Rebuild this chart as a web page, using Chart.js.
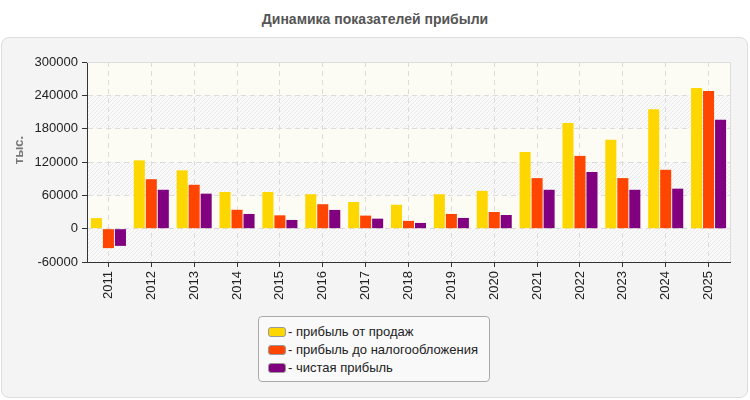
<!DOCTYPE html>
<html>
<head>
<meta charset="utf-8">
<script src="https://cdn.jsdelivr.net/npm/chart.js@4/dist/chart.umd.min.js"></script>
<style>
    body { margin: 0; background: #fff; font-family: "Liberation Sans", Arial, sans-serif; }
    #wrap { position: relative; width: 750px; height: 400px; }
    #card {
        position: absolute; left: 1px; top: 37px; width: 745px; height: 359px;
        border: 1px solid #ddd; border-radius: 8px; background: #f4f4f4;
    }
    #title {
        position: absolute; left: 0; top: 11px; width: 750px; text-align: center;
        font-weight: bold; font-size: 14px; color: #555;
    }
    #chart { position: absolute; left: 0; top: 0; }
    #legend {
        position: absolute; left: 258px; top: 316px; width: 230px; height: 58px;
        padding-top: 6px; border: 1px solid #aaa; border-radius: 4px; background: #f9f9f9;
    }
    .item { height: 18px; line-height: 18px; font-size: 13px; color: #222; white-space: nowrap; }
    .swatch {
        display: inline-block; width: 16px; height: 8px; margin: 0 2px 0 9px;
        border: 1px solid #999; border-radius: 3px; vertical-align: -1px;
    }
</style>
</head>
<body>
<div id="wrap">
    <div id="card"></div>
    <div id="title">Динамика показателей прибыли</div>
    <canvas id="chart" width="750" height="400"></canvas>
    <div id="legend"></div>
</div>
<script>
// =====================================
// Data
// =====================================

const years = ["2011", "2012", "2013", "2014", "2015", "2016", "2017", "2018",
               "2019", "2020", "2021", "2022", "2023", "2024", "2025"];

const salesProfit = [19000, 123000, 105000, 66000, 66000, 62000, 48000, 43000,
                     62000, 68000, 138000, 190000, 160000, 215000, 253000];

const preTaxProfit = [-35000, 89000, 79000, 34000, 24000, 44000, 23500, 14000,
                      26500, 30000, 91000, 131000, 91000, 106000, 248000];

const netProfit = [-31000, 70000, 63000, 26500, 15700, 33700, 18000, 10300,
                   19300, 24600, 70000, 102000, 70000, 72000, 196000];

const seriesNames = ["прибыль от продаж", "прибыль до налогообложения", "чистая прибыль"];
const seriesColors = ["#ffd700", "#ff4500", "#800080"];

const yMin = -60000;
const yMax = 300000;
const yStep = 60000;

const fontFamily = "'Liberation Sans', Arial, sans-serif";

// =====================================
// Plot bands (plain / hatched)
// =====================================

const ctx = document.getElementById("chart").getContext("2d");

function makeHatchPattern(context) {
    const c = document.createElement("canvas");
    c.width = 4;
    c.height = 4;
    const g = c.getContext("2d");
    g.fillStyle = "#fafafa";
    g.fillRect(0, 0, 4, 4);
    g.fillStyle = "#e9e9e9";
    for (let i = 0; i < 4; i++) {
        g.fillRect(3 - i, i, 1, 1);
    }
    return context.createPattern(c, "repeat");
}

const hatchPattern = makeHatchPattern(ctx);

const bandsPlugin = {
    id: "bands",
    beforeDraw(chart) {
        const c = chart.ctx;
        const area = chart.chartArea;
        const y = chart.scales.y;
        let top = yMax;
        let plain = true;
        c.save();
        while (top > yMin) {
            const y1 = y.getPixelForValue(top);
            const y2 = y.getPixelForValue(top - yStep);
            c.fillStyle = plain ? "#fcfcf5" : hatchPattern;
            c.fillRect(area.left, y1, area.right - area.left, y2 - y1);
            plain = !plain;
            top -= yStep;
        }
        c.restore();
    },
    afterDatasetsDraw(chart) {
        const c = chart.ctx;
        const area = chart.chartArea;
        c.save();
        c.strokeStyle = "#dddddd";
        c.lineWidth = 1;
        c.beginPath();
        c.moveTo(area.left, area.top + 0.5);
        c.lineTo(area.right + 0.5, area.top + 0.5);
        c.lineTo(area.right + 0.5, area.bottom);
        c.stroke();

        // y axis title
        c.translate(19, 150);
        c.rotate(-Math.PI / 2);
        c.font = "bold 13px " + fontFamily;
        c.fillStyle = "#777";
        c.textAlign = "center";
        c.textBaseline = "middle";
        c.fillText("тыс.", 0, 0);
        c.restore();
    }
};

// =====================================
// Chart
// =====================================

const allSeries = [salesProfit, preTaxProfit, netProfit];

const chart = new Chart(ctx, {
    type: "bar",
    data: {
        labels: years,
        datasets: allSeries.map((values, i) => ({
            label: seriesNames[i],
            data: values,
            backgroundColor: seriesColors[i],
            borderWidth: 0,
            categoryPercentage: 0.84,
            barPercentage: 0.92
        }))
    },
    options: {
        responsive: false,
        animation: false,
        layout: {
            padding: { left: 0, right: 20, top: 62, bottom: 98 }
        },
        plugins: {
            legend: { display: false },
            title: { display: false },
            tooltip: { enabled: false }
        },
        scales: {
            x: {
                afterFit(scale) { scale.height = 40; },
                border: { color: "#333", width: 1, dash: [5, 4] },
                grid: {
                    offset: false,
                    color: "#dcdcdc",
                    tickColor: "#333",
                    tickLength: 5,
                    tickBorderDash: []
                },
                ticks: {
                    minRotation: 90,
                    maxRotation: 90,
                    padding: 4,
                    color: "#222",
                    font: { family: fontFamily, size: 13 }
                }
            },
            y: {
                min: yMin,
                max: yMax,
                afterFit(scale) { scale.width = 87; },
                border: { color: "#333", width: 1, dash: [5, 4] },
                grid: {
                    color: "#dcdcdc",
                    tickColor: "#333",
                    tickLength: 5,
                    tickBorderDash: []
                },
                ticks: {
                    stepSize: yStep,
                    padding: 4,
                    color: "#222",
                    font: { family: fontFamily, size: 13 },
                    callback: (value) => String(value)
                }
            }
        }
    },
    plugins: [bandsPlugin]
});

// =====================================
// Legend
// =====================================

const legend = document.getElementById("legend");
seriesNames.forEach((name, i) => {
    const row = document.createElement("div");
    row.className = "item";
    const sw = document.createElement("span");
    sw.className = "swatch";
    sw.style.background = seriesColors[i];
    row.appendChild(sw);
    row.appendChild(document.createTextNode("- " + name));
    legend.appendChild(row);
});
</script>
</body>
</html>
